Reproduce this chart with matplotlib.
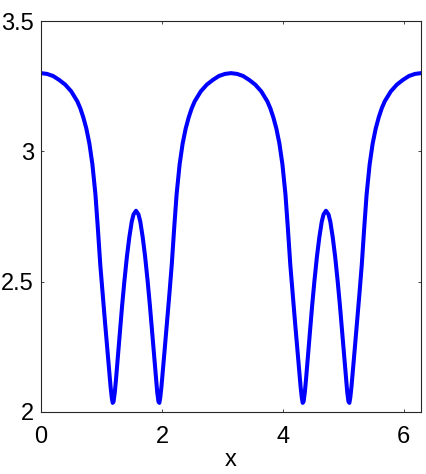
import matplotlib
matplotlib.use("Agg")
import matplotlib.pyplot as plt

# Curve samples (x in radians, y value)
x_vals = [
    0.000, 0.100, 0.200, 0.300, 0.400, 0.500, 0.600, 0.650, 0.700, 0.750,
    0.800, 0.850, 0.900, 0.940, 0.980, 1.020, 1.060, 1.100, 1.130, 1.150,
    1.170, 1.185, 1.200, 1.220, 1.240, 1.270, 1.300, 1.340, 1.380, 1.420,
    1.460, 1.500, 1.530, 1.571,
    1.612, 1.642, 1.682, 1.722, 1.762, 1.802, 1.842, 1.872, 1.902, 1.922,
    1.942, 1.957, 1.972, 1.992, 2.012, 2.042, 2.082, 2.122, 2.162, 2.202,
    2.242, 2.292, 2.342, 2.392, 2.442, 2.492, 2.542, 2.642, 2.742, 2.842,
    2.942, 3.042, 3.142,
    3.242, 3.342, 3.442, 3.542, 3.642, 3.742, 3.792, 3.842, 3.892, 3.942,
    3.992, 4.042, 4.082, 4.122, 4.162, 4.202, 4.242, 4.272, 4.292, 4.312,
    4.327, 4.342, 4.362, 4.382, 4.412, 4.442, 4.482, 4.522, 4.562, 4.602,
    4.642, 4.672, 4.712,
    4.754, 4.784, 4.824, 4.864, 4.904, 4.944, 4.984, 5.014, 5.044, 5.064,
    5.084, 5.099, 5.114, 5.134, 5.154, 5.184, 5.224, 5.264, 5.304, 5.344,
    5.384, 5.434, 5.484, 5.534, 5.584, 5.634, 5.684, 5.784, 5.884, 5.984,
    6.084, 6.184, 6.283,
]
y_vals = [
    3.300, 3.297, 3.289, 3.274, 3.256, 3.230, 3.192, 3.165, 3.130, 3.087,
    3.030, 2.950, 2.835, 2.705, 2.565, 2.450, 2.340, 2.232, 2.150, 2.098,
    2.055, 2.035, 2.040, 2.075, 2.125, 2.210, 2.295, 2.405, 2.505, 2.595,
    2.670, 2.730, 2.758, 2.772,
    2.758, 2.730, 2.670, 2.595, 2.505, 2.405, 2.295, 2.210, 2.125, 2.075,
    2.040, 2.035, 2.055, 2.098, 2.150, 2.232, 2.340, 2.450, 2.565, 2.705,
    2.835, 2.950, 3.030, 3.087, 3.130, 3.165, 3.192, 3.230, 3.256, 3.274,
    3.289, 3.297, 3.300,
    3.297, 3.289, 3.274, 3.256, 3.230, 3.192, 3.165, 3.130, 3.087, 3.030,
    2.950, 2.835, 2.705, 2.565, 2.450, 2.340, 2.232, 2.150, 2.098, 2.055,
    2.035, 2.040, 2.075, 2.125, 2.210, 2.295, 2.405, 2.505, 2.595, 2.670,
    2.730, 2.758, 2.772,
    2.758, 2.730, 2.670, 2.595, 2.505, 2.405, 2.295, 2.210, 2.125, 2.075,
    2.040, 2.035, 2.055, 2.098, 2.150, 2.232, 2.340, 2.450, 2.565, 2.705,
    2.835, 2.950, 3.030, 3.087, 3.130, 3.165, 3.192, 3.230, 3.256, 3.274,
    3.289, 3.297, 3.300,
]

x_ticks = [0, 2, 4, 6]
x_tick_labels = ["0", "2", "4", "6"]
y_ticks = [2, 2.5, 3, 3.5]
y_tick_labels = ["2", "2.5", "3", "3.5"]
x_label = "x"

plt.rcParams['font.family'] = ['Liberation Sans', 'DejaVu Sans']

fig = plt.figure(figsize=(4.27, 4.74), dpi=100)
ax = fig.add_axes([41 / 427, (474 - 412) / 474, 380 / 427, 391 / 474])

ax.plot(x_vals, y_vals, color=(0, 0, 1), linewidth=2.9,
        solid_joinstyle='round', solid_capstyle='round')

ax.set_xlim(0, 6.2832)
ax.set_ylim(2, 3.5)
ax.set_xticks(x_ticks)
ax.set_xticklabels(x_tick_labels)
ax.set_yticks(y_ticks)
ax.set_yticklabels(y_tick_labels)
ax.tick_params(direction='in', length=2.5, width=0.6, labelsize=17,
               top=True, right=True, pad=5, colors='#262626',
               labelcolor='black')
ax.tick_params(axis='x', pad=10)
for s in ax.spines.values():
    s.set_linewidth(0.8)
    s.set_color('#262626')
ax.set_xlabel(x_label, fontsize=17, labelpad=1)

fig.savefig("out.png", dpi=100)
